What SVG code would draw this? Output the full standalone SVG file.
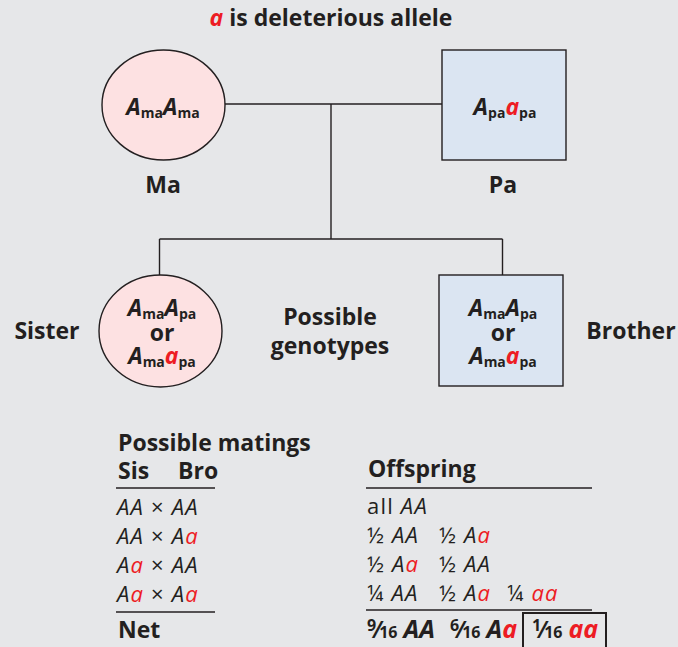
<svg xmlns="http://www.w3.org/2000/svg" width="678" height="647" viewBox="0 0 678 647">
<style>
text{font-family:"Open Sans","Noto Sans","Liberation Sans",sans-serif;fill:#231f20}
.b{font-weight:bold}
.bi{font-weight:bold;font-style:italic}
.i{font-style:italic}
.n{font-style:normal}
.r{fill:#ed1c24}
.lbl{font-size:23px;font-weight:bold}
.g{font-size:23px;font-weight:bold;font-style:italic}
.sub{font-size:14px;font-style:normal;font-weight:bold}
.row{font-size:22px;letter-spacing:1.2px}
.fr{font-size:16px}
.ln{stroke:#231f20;stroke-width:1.4;fill:none}
.fem{fill:#fde1e2;stroke:#231f20;stroke-width:1.4}
.mal{fill:#dbe5f2;stroke:#231f20;stroke-width:1.4}
</style>
<rect width="678" height="647" fill="#e6e7e9"/>
<text x="331" y="26" text-anchor="middle" class="lbl"><tspan class="bi r">a</tspan> is deleterious allele</text>

<g id="connectors">
<line class="ln" x1="225" y1="104" x2="442" y2="104"/>
<line class="ln" x1="331" y1="104" x2="331" y2="239"/>
<line class="ln" x1="159.5" y1="239" x2="502.5" y2="239"/>
<line class="ln" x1="159.5" y1="239" x2="159.5" y2="275"/>
<line class="ln" x1="502.5" y1="239" x2="502.5" y2="275"/>
</g>

<g id="ma">
<ellipse class="fem" cx="163.5" cy="105" rx="61.5" ry="55"/>
<text x="163" y="115" text-anchor="middle" class="g">A<tspan class="sub" dy="3">ma</tspan><tspan dy="-3">A</tspan><tspan class="sub" dy="3">ma</tspan></text>
<text x="163" y="193" text-anchor="middle" class="lbl">Ma</text>
</g>

<g id="pa">
<rect class="mal" x="442" y="50" width="124" height="110"/>
<text x="505" y="115" text-anchor="middle" class="g">A<tspan class="sub" dy="3">pa</tspan><tspan class="r" dy="-3">a</tspan><tspan class="sub" dy="3">pa</tspan></text>
<text x="503" y="193" text-anchor="middle" class="lbl">Pa</text>
</g>

<g id="sister">
<ellipse class="fem" cx="160.5" cy="331" rx="61.5" ry="56"/>
<text x="162" y="316" text-anchor="middle" class="g">A<tspan class="sub" dy="3">ma</tspan><tspan dy="-3">A</tspan><tspan class="sub" dy="3">pa</tspan><tspan x="162" y="341" class="n">or</tspan><tspan x="162" y="364">A</tspan><tspan class="sub" dy="3">ma</tspan><tspan class="r" dy="-3">a</tspan><tspan class="sub" dy="3">pa</tspan></text>
<text x="47" y="339" text-anchor="middle" class="lbl">Sister</text>
</g>

<g id="genotypes">
<text x="330" y="325" text-anchor="middle" class="lbl">Possible<tspan x="330" y="354">genotypes</tspan></text>
</g>

<g id="brother">
<rect class="mal" x="439" y="275" width="124" height="111"/>
<text x="503" y="316" text-anchor="middle" class="g">A<tspan class="sub" dy="3">ma</tspan><tspan dy="-3">A</tspan><tspan class="sub" dy="3">pa</tspan><tspan x="503" y="341" class="n">or</tspan><tspan x="503" y="364">A</tspan><tspan class="sub" dy="3">ma</tspan><tspan class="r" dy="-3">a</tspan><tspan class="sub" dy="3">pa</tspan></text>
<text x="631" y="339" text-anchor="middle" class="lbl">Brother</text>
</g>

<g id="table">
<text x="118" y="451" class="lbl">Possible matings</text>
<text x="118" y="479" class="lbl">Sis<tspan x="178">Bro</tspan></text>
<line class="ln" x1="116" y1="488" x2="215" y2="488"/>
<text x="117" y="515" class="row"><tspan class="i">AA</tspan> × <tspan class="i">AA</tspan></text>
<text x="117" y="544" class="row"><tspan class="i">AA</tspan> × <tspan class="i">A</tspan><tspan class="i r">a</tspan></text>
<text x="117" y="573" class="row"><tspan class="i">A</tspan><tspan class="i r">a</tspan> × <tspan class="i">AA</tspan></text>
<text x="117" y="602" class="row"><tspan class="i">A</tspan><tspan class="i r">a</tspan> × <tspan class="i">A</tspan><tspan class="i r">a</tspan></text>
<line class="ln" x1="116" y1="612" x2="215" y2="612"/>
<text x="118" y="638" class="lbl">Net</text>

<text x="368" y="477" class="lbl">Offspring</text>
<line class="ln" x1="366" y1="488" x2="592" y2="488"/>
<text x="367" y="514" class="row">all <tspan class="i">AA</tspan></text>
<text x="367" y="543" class="row">½ <tspan class="i">AA</tspan><tspan x="439">½ </tspan><tspan class="i">A</tspan><tspan class="i r">a</tspan></text>
<text x="367" y="572" class="row">½ <tspan class="i">A</tspan><tspan class="i r">a</tspan><tspan x="439">½ </tspan><tspan class="i">AA</tspan></text>
<text x="367" y="601" class="row">¼ <tspan class="i">AA</tspan><tspan x="439">½ </tspan><tspan class="i">A</tspan><tspan class="i r">a</tspan><tspan x="507">¼ </tspan><tspan class="i r">aa</tspan></text>
<line class="ln" x1="366" y1="610" x2="592" y2="610"/>
<text x="367" y="638" class="lbl"><tspan class="fr" dy="-7">9</tspan><tspan dy="7">⁄</tspan><tspan class="fr">16</tspan> <tspan class="bi" font-size="25">AA</tspan><tspan x="450" class="fr" dy="-7">6</tspan><tspan dy="7">⁄</tspan><tspan class="fr">16</tspan> <tspan class="bi" font-size="25">A</tspan><tspan class="bi r" font-size="25">a</tspan><tspan x="532" class="fr" dy="-7">1</tspan><tspan dy="7">⁄</tspan><tspan class="fr">16</tspan> <tspan class="bi r" font-size="25">aa</tspan></text>
<rect x="523" y="613" width="83" height="40" fill="none" stroke="#231f20" stroke-width="2"/>
</g>
</svg>
